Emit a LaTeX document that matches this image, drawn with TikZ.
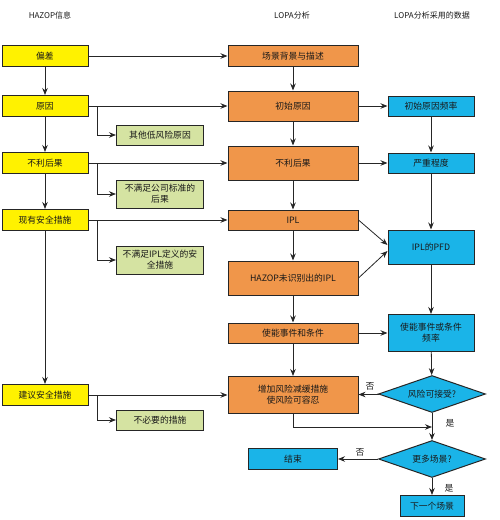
\documentclass[tikz,border=0pt]{standalone}
\usepackage{fontspec}
\setmainfont{Noto Sans CJK SC}
\usetikzlibrary{shapes.geometric,arrows.meta}
\definecolor{hzyellow}{HTML}{FFF200}
\definecolor{lporange}{HTML}{F0964A}
\definecolor{lpgreen}{HTML}{D5E3A2}
\definecolor{lpblue}{HTML}{1AB4E8}
\begin{document}
\begin{tikzpicture}[x=1pt,y=-1pt,
	every node/.style={font=\fontsize{8.8}{11}\selectfont,text=black!90},
	box/.style={draw=black!85,line width=1pt,inner sep=0pt,align=center},
	hzbox/.style={box,fill=hzyellow,minimum width=86pt,minimum height=21pt},
	gbox/.style={box,fill=lpgreen,minimum width=87pt,minimum height=20pt},
	obox/.style={box,fill=lporange,minimum width=130pt},
	bbox/.style={box,fill=lpblue,minimum width=86pt},
	dbox/.style={box,fill=lpblue,shape=diamond,aspect=2.9,minimum width=107pt,minimum height=37pt},
	arr/.style={-{Stealth[length=7pt,width=5.5pt]},line width=0.8pt,black!85},
	head/.style={font=\fontsize{8}{10}\selectfont}]
			\useasboundingbox (0,0) rectangle (500,520);
			% titles
			\node[head] (t1) at (50,15) {HAZOP信息};
			\node[head] (t2) at (292,15) {LOPA分析};
			\node[head] (t3) at (432,15) {LOPA分析采用的数据};
			% HAZOP column
			\node[hzbox] (dev) at (45,56) {偏差};
			\node[hzbox] (cause) at (45,106) {原因};
			\node[hzbox] (cons) at (45,163) {不利后果};
			\node[hzbox] (safe) at (45,220) {现有安全措施};
			\node[hzbox] (prop) at (45,395) {建议安全措施};
			\node[gbox] (low) at (160,135) {其他低风险原因};
			\node[gbox,minimum height=28pt] (std) at (160,194) {不满足公司标准的\\后果};
			\node[gbox,minimum height=28pt] (nipl) at (160,260) {不满足IPL定义的安\\全措施};
			\node[gbox] (unn) at (160,420) {不必要的措施};
			% LOPA column
			\node[obox,minimum height=21pt] (scene) at (293,56) {场景背景与描述};
			\node[obox,minimum height=30pt] (init) at (293,106) {初始原因};
			\node[obox,minimum height=34pt] (lcons) at (293,163) {不利后果};
			\node[obox,minimum height=20pt] (ipl) at (293,220) {IPL};
			\node[obox,minimum height=34pt] (hzipl) at (293,278) {HAZOP未识别出的IPL};
			\node[obox,minimum height=20pt] (enab) at (293,333) {使能事件和条件};
			\node[obox,minimum height=37pt] (add) at (293,395) {增加风险减缓措施\\使风险可容忍};
			% data column
			\node[bbox,minimum height=20pt] (ifreq) at (431,106) {初始原因频率};
			\node[bbox,minimum height=20pt] (sev) at (431,163) {严重程度};
			\node[bbox,minimum height=34pt] (pfd) at (431,247) {IPL的PFD};
			\node[bbox,minimum height=37pt] (efreq) at (431,333) {使能事件或条件\\频率};
			\node[dbox] (acc) at (432,394) {风险可接受?};
			\node[dbox] (more) at (432,459) {更多场景?};
			\node[bbox,minimum width=89pt,minimum height=21pt] (end) at (293,459) {结束};
			\node[bbox,minimum width=64pt,minimum height=21pt] (next) at (432,506) {下一个场景};
			\coordinate (join) at (432,427);
			% HAZOP arrows
			\draw[arr] (dev) -- (cause);
			\draw[arr] (cause) -- (cons);
			\draw[arr] (cons) -- (safe);
			\draw[arr] (safe) -- (prop);
			\draw[arr] (dev) -- (scene);
			\draw[arr] (cause) -- (init);
			\draw[arr] (cons) -- (lcons);
			\draw[arr] (safe) -- (ipl);
			\draw[arr] (prop) -- (add);
			\draw[arr] ([xshift=9pt]cause.east) |- (low.west);
			\draw[arr] ([xshift=9pt]cons.east) |- (std.west);
			\draw[arr] ([xshift=9pt]safe.east) |- (nipl.west);
			\draw[arr] ([xshift=9pt]prop.east) |- (unn.west);
			% LOPA arrows
			\draw[arr] (scene) -- (init);
			\draw[arr] (init) -- (lcons);
			\draw[arr] (lcons) -- (ipl);
			\draw[arr] (ipl) -- (hzipl);
			\draw[arr] (hzipl) -- (enab);
			\draw[arr] (enab) -- (add);
			\draw[arr] (init) -- (ifreq);
			\draw[arr] (lcons) -- (sev);
			\draw[arr] (ipl.east) -- ([yshift=2pt]pfd.west);
			\draw[arr] (hzipl.east) -- ([yshift=-4pt]pfd.west);
			\draw[arr] (enab) -- (efreq);
			\draw[arr] (add.south) |- (join);
			% data arrows
			\draw[arr] (ifreq) -- (sev);
			\draw[arr] (sev) -- (pfd);
			\draw[arr] (pfd) -- (efreq);
			\draw[arr] (efreq) -- (acc);
			\draw[arr] (acc) -- (more);
			\draw[arr] (more) -- (next);
			\draw[arr] (acc) -- (add);
			\draw[arr] (more) -- (end);
			\node (no1) at (370,386) {否};
			\node (yes1) at (450,423) {是};
			\node (no2) at (360,452) {否};
			\node (yes2) at (449,488) {是};
\end{tikzpicture}
\end{document}
